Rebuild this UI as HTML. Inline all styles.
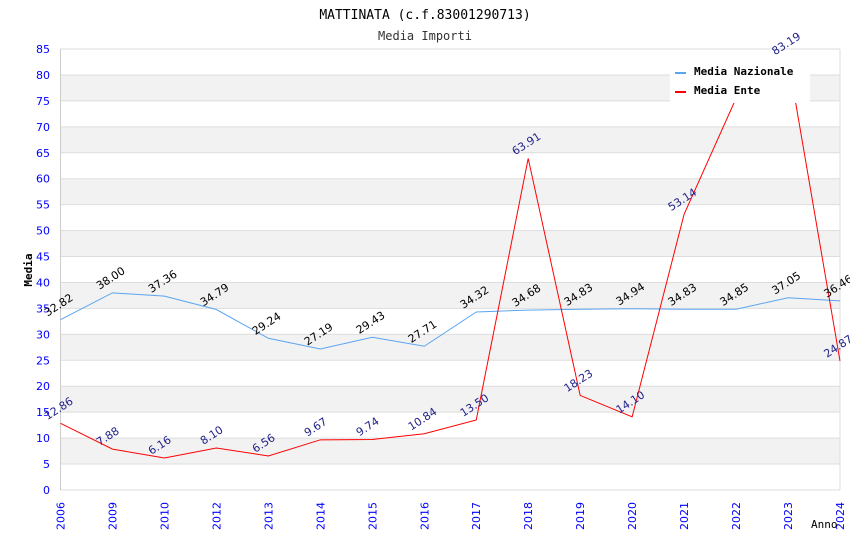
<!DOCTYPE html>
<html><head><meta charset="utf-8"><style>
body{margin:0;background:#fff;}
svg text{font-family:"DejaVu Sans","Liberation Sans",sans-serif;}
.mono{font-family:"DejaVu Sans Mono","Liberation Mono",monospace;}
</style></head><body>
<svg id="chart" width="850" height="550" xmlns="http://www.w3.org/2000/svg">
<text class="mono" x="425" y="19" text-anchor="middle" font-size="13" fill="#000">MATTINATA (c.f.83001290713)</text>
<text class="mono" x="425" y="40" text-anchor="middle" font-size="12" fill="#333">Media Importi</text>
<g id="grid"></g><g id="axes"></g><g id="series"></g><g id="labels"></g>
<g>
<rect x="670" y="57" width="140" height="46" fill="#fff"/>
<line x1="675" y1="73" x2="686" y2="73" stroke="#5aa5f0" stroke-width="2"/>
<text class="mono" x="694" y="75" font-size="11" font-weight="bold">Media Nazionale</text>
<line x1="675" y1="92" x2="686" y2="92" stroke="#f00" stroke-width="2"/>
<text class="mono" x="694" y="94" font-size="11" font-weight="bold">Media Ente</text>
</g>
<text class="mono" x="32" y="270" font-size="11" font-weight="bold" text-anchor="middle" transform="rotate(-90 32 270)">Media</text>
<text class="mono" x="811" y="528" font-size="11">Anno</text>
</svg>
<script>
const categories=["2006","2009","2010","2012","2013","2014","2015","2016","2017","2018","2019","2020","2021","2022","2023","2024"];
const nazionale=[32.82,38.00,37.36,34.79,29.24,27.19,29.43,27.71,34.32,34.68,34.83,34.94,34.83,34.85,37.05,36.46];
const ente=[12.86,7.88,6.16,8.10,6.56,9.67,9.74,10.84,13.50,63.91,18.23,14.10,53.14,75.5,83.19,24.87];
const enteLabels=["12.86","7.88","6.16","8.10","6.56","9.67","9.74","10.84","13.50","63.91","18.23","14.10","53.14","","83.19","24.87"];
const yTicks=[0,5,10,15,20,25,30,35,40,45,50,55,60,65,70,75,80,85];
const NS="http://www.w3.org/2000/svg";
const L=60.5,R=840,T=49,B=490,YMAX=85;
const xs=i=>L+i*(R-L)/(categories.length-1);
const ys=v=>B-v/YMAX*(B-T);
function mk(tag,a,p){const e=document.createElementNS(NS,tag);for(const k in a)e.setAttribute(k,a[k]);p.appendChild(e);return e;}
const grid=document.getElementById('grid'),axes=document.getElementById('axes'),ser=document.getElementById('series'),lab=document.getElementById('labels');
for(let k=0;k<yTicks.length-1;k++){
 if(k%2===1){const b=mk('rect',{x:L,y:ys(yTicks[k+1]),width:R-L,height:ys(yTicks[k])-ys(yTicks[k+1]),fill:'#f2f2f2'},grid);
 
 }
}
yTicks.forEach(v=>{
 const l=mk('line',{x1:L,x2:R,y1:ys(v),y2:ys(v),stroke:'#ddd'},grid);
 
 
 const t=mk('text',{x:50,y:ys(v)+4,'text-anchor':'end','font-size':11,fill:'#00f'},axes);
 t.textContent=v;
 
 
});
mk('line',{x1:L,x2:L,y1:T,y2:B,stroke:'#ccc'},axes);
mk('line',{x1:R,x2:R,y1:T,y2:B,stroke:'#ddd'},axes);
categories.forEach((c,i)=>{
 const x=xs(i)+4,y=530;
 const t=mk('text',{x:x,y:y,'font-size':11,fill:'#00f',transform:`rotate(-90 ${x} ${y})`},axes);
 t.textContent=c;
 
 
});
function line(vals,color,name){
 const p=mk('polyline',{points:vals.map((v,i)=>xs(i)+','+ys(v)).join(' '),fill:'none',stroke:color,'stroke-width':1},ser);
 
 
}
line(nazionale,'#5aa5f0','series-nazionale');
line(ente,'#f00','series-ente');
function labels(vals,texts,color,name){
 vals.forEach((v,i)=>{
  if(!texts[i])return;
  const x=xs(i)-13,y=ys(v)-3;
  const t=mk('text',{x:x,y:y,'font-size':11,fill:color,transform:`rotate(-33 ${x} ${y})`},lab);
  t.textContent=texts[i];
  
  
 });
}
labels(nazionale,nazionale.map(v=>v.toFixed(2)),'#000','value-label-nazionale');
labels(ente,enteLabels,'#22228a','value-label-ente');
</script>
</body></html>
